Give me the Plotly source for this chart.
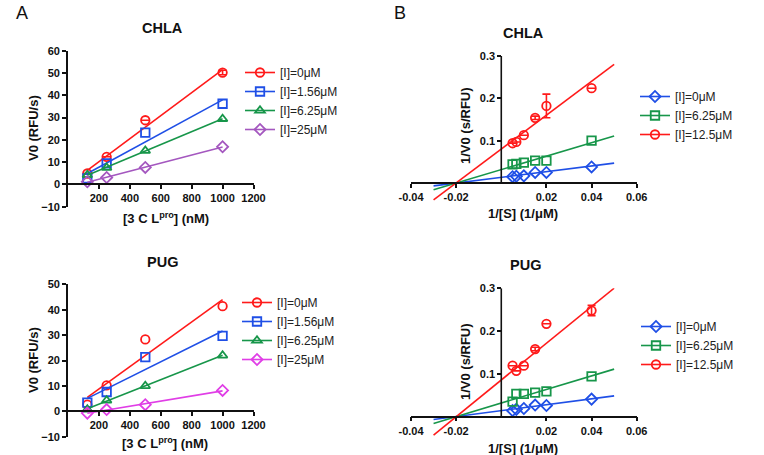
import numpy as np
import plotly.graph_objects as go

W, H = 764, 455
FONT = "Liberation Sans, Arial, sans-serif"

# ---------------- Panel A data ----------------
enzyme_nM = [125, 250, 500, 1000]

chla_labels = ["[I]=0μM", "[I]=1.56μM", "[I]=6.25μM", "[I]=25μM"]
chla_v0 = [
    [4.9, 12.4, 28.8, 50.2],
    [2.7, 9.4, 23.2, 36.2],
    [4.2, 7.5, 15.1, 29.4],
    [1.2, 3.1, 7.6, 16.9],
]
chla_v0_err = [
    [0, 0, 0, 1.0],
    [0, 0, 0, 0],
    [0, 0, 0, 0],
    [0, 0, 0, 0],
]

pug_labels = ["[I]=0μM", "[I]=1.56μM", "[I]=6.25μM", "[I]=25μM"]
pug_v0 = [
    [2.6, 10.2, 28.3, 41.4],
    [3.4, 7.6, 21.3, 29.7],
    [0.7, 4.3, 10.0, 22.0],
    [-0.7, 0.7, 2.6, 8.2],
]

a_yticks = [-10, 0, 10, 20, 30, 40, 50, 60]
a_yticks_pug = [-10, 0, 10, 20, 30, 40, 50]
a_xticks = [200, 400, 600, 800, 1000, 1200]

# ---------------- Panel B data ----------------
inv_s = [0.005, 0.00667, 0.01, 0.015, 0.02, 0.04]
b_labels = ["[I]=0μM", "[I]=6.25μM", "[I]=12.5μM"]

chla_inv_v = [
    [0.015, 0.016, 0.017, 0.025, 0.025, 0.038],
    [0.044, 0.045, 0.048, 0.053, 0.053, 0.100],
    [0.094, 0.097, 0.113, 0.154, 0.182, 0.224],
]
chla_inv_err = [
    [0, 0, 0, 0, 0, 0],
    [0, 0, 0, 0, 0, 0],
    [0, 0, 0, 0.004, 0.028, 0],
]
chla_fit_slope = [0.671, 1.586, 4.0]
chla_fit_icpt = [0.0134, 0.0317, 0.080]

pug_inv_v = [
    [0.014, 0.017, 0.019, 0.027, 0.026, 0.041],
    [0.035, 0.053, 0.053, 0.056, 0.059, 0.094],
    [0.119, 0.107, 0.119, 0.158, 0.217, 0.248],
]
pug_inv_err = [
    [0, 0, 0, 0, 0, 0],
    [0, 0, 0, 0, 0, 0],
    [0, 0, 0, 0.004, 0, 0.012],
]
pug_fit_slope = [0.693, 1.586, 4.29]
pug_fit_icpt = [0.0139, 0.0317, 0.0857]

fit_x_range = [-0.03, 0.05]
b_xticks = [-0.04, -0.02, 0.02, 0.04, 0.06]
b_xticktext = ["-0.04", "-0.02", "0.02", "0.04", "0.06"]
b_yticks = [0.1, 0.2, 0.3]

# ---------------- styles ----------------
RED = "#ff1a1a"
BLUE = "#1f4fe6"
GREEN = "#17964a"
PURPLE = "#a457bf"
MAGENTA = "#e03ee6"

a_top_style = [(RED, "circle-open"), (BLUE, "square-open"),
               (GREEN, "triangle-up-open"), (PURPLE, "diamond-open")]
a_bot_style = [(RED, "circle-open"), (BLUE, "square-open"),
               (GREEN, "triangle-up-open"), (MAGENTA, "diamond-open")]
b_style = [(BLUE, "diamond-open"), (GREEN, "square-open"), (RED, "circle-open")]


def px_dom_x(a, b):
    return [a / W, b / W]


def px_dom_y(top, bottom):
    return [1 - bottom / H, 1 - top / H]


dom = {
    "x": px_dom_x(68, 253.5), "y": px_dom_y(50.7, 206.7),
    "x2": px_dom_x(68, 253.5), "y2": px_dom_y(284.3, 436.7),
    "x3": px_dom_x(411, 636.7), "y3": px_dom_y(56, 204.2),
    "x4": px_dom_x(411, 636.7), "y4": px_dom_y(288.3, 438.0),
}
rng = {
    "x": [0, 1200], "y": [-10, 60],
    "x2": [0, 1200], "y2": [-10, 50],
    "x3": [-0.04, 0.06], "y3": [-0.05, 0.3],
    "x4": [-0.04, 0.06], "y4": [-0.05, 0.3],
}


def zero_pos(axdom, axrng):
    return axdom[0] + (0 - axrng[0]) / (axrng[1] - axrng[0]) * (axdom[1] - axdom[0])


fig = go.Figure()


def marker_style(col, sym):
    return dict(symbol=sym, size=8.5, color=col, line=dict(width=1.8, color=col))


def legend_entry(lab, col, sym, xa, ya, legend):
    fig.add_trace(go.Scatter(
        x=[None], y=[None], mode="lines+markers", name=lab,
        xaxis=xa, yaxis=ya, legend=legend,
        line=dict(color=col, width=1.6), marker=marker_style(col, sym)))


def add_a(values, labels, styles, xa, ya, legend, errs=None):
    for i, (vals, lab, (col, sym)) in enumerate(zip(values, labels, styles)):
        k, b0 = np.polyfit(enzyme_nM, vals, 1)
        xf = np.array([min(enzyme_nM), max(enzyme_nM)])
        fig.add_trace(go.Scatter(
            x=xf, y=k * xf + b0, mode="lines", xaxis=xa, yaxis=ya,
            line=dict(color=col, width=1.6), showlegend=False, hoverinfo="skip"))
        ey = None
        if errs is not None and any(errs[i]):
            ey = dict(type="data", array=errs[i], visible=True, color=col,
                      thickness=1.6, width=4)
        fig.add_trace(go.Scatter(
            x=enzyme_nM, y=vals, mode="markers", showlegend=False,
            xaxis=xa, yaxis=ya, marker=marker_style(col, sym), error_y=ey))
        legend_entry(lab, col, sym, xa, ya, legend)


def add_b(values, labels, styles, slopes, icpts, errs, xa, ya, legend):
    xf = np.array(fit_x_range)
    for i, (vals, lab, (col, sym)) in enumerate(zip(values, labels, styles)):
        fig.add_trace(go.Scatter(
            x=xf, y=slopes[i] * xf + icpts[i], mode="lines", xaxis=xa, yaxis=ya,
            line=dict(color=col, width=1.6), showlegend=False, hoverinfo="skip"))
        ey = None
        if any(errs[i]):
            ey = dict(type="data", array=errs[i], visible=True, color=col,
                      thickness=1.6, width=4)
        fig.add_trace(go.Scatter(
            x=inv_s, y=vals, mode="markers", showlegend=False,
            xaxis=xa, yaxis=ya, marker=marker_style(col, sym), error_y=ey))
        legend_entry(lab, col, sym, xa, ya, legend)


add_a(chla_v0, chla_labels, a_top_style, "x", "y", "legend", chla_v0_err)
add_a(pug_v0, pug_labels, a_bot_style, "x2", "y2", "legend2")
add_b(chla_inv_v, b_labels, b_style, chla_fit_slope, chla_fit_icpt, chla_inv_err,
      "x3", "y3", "legend3")
add_b(pug_inv_v, b_labels, b_style, pug_fit_slope, pug_fit_icpt, pug_inv_err,
      "x4", "y4", "legend4")

tickfont = dict(family=FONT, size=11, color="#111", weight="bold")
axline = dict(showline=True, linecolor="#111", linewidth=1.6, ticks="outside",
              ticklen=4, tickwidth=1.6, tickcolor="#111", showgrid=False,
              zeroline=False, tickfont=tickfont, fixedrange=True)

layout = dict(
    width=W, height=H, margin=dict(l=0, r=0, t=0, b=0, autoexpand=False),
    paper_bgcolor="white", plot_bgcolor="white", showlegend=True,
    font=dict(family=FONT, color="#111"),
)

# Panel A axes
for xa, ya, yt in (("x", "y", a_yticks), ("x2", "y2", a_yticks_pug)):
    xk = "xaxis" if xa == "x" else "xaxis" + xa[1:]
    yk = "yaxis" if ya == "y" else "yaxis" + ya[1:]
    layout[xk] = dict(domain=dom[xa], range=rng[xa], anchor="free",
                      position=zero_pos(dom[ya], rng[ya]), tickvals=a_xticks,
                      **axline)
    layout[yk] = dict(domain=dom[ya], range=rng[ya], anchor=xa, tickvals=yt,
                      **axline)

# Panel B axes
for xa, ya in (("x3", "y3"), ("x4", "y4")):
    xk = "xaxis" + xa[1:]
    yk = "yaxis" + ya[1:]
    layout[xk] = dict(domain=dom[xa], range=rng[xa], anchor="free",
                      position=zero_pos(dom[ya], rng[ya]), tickvals=b_xticks,
                      ticktext=b_xticktext, **axline)
    ax = dict(axline)
    ax["showline"] = False
    layout[yk] = dict(domain=dom[ya], range=rng[ya], anchor="free",
                      position=zero_pos(dom[xa], rng[xa]), tickvals=b_yticks,
                      **ax)

# legends
legfont = dict(family=FONT, size=12, color="#222")


def leg(xpx, ytop):
    return dict(x=xpx / W, y=1 - ytop / H, xanchor="left", yanchor="top",
                bgcolor="rgba(0,0,0,0)", font=legfont, itemwidth=30,
                tracegroupgap=0)


layout["legend"] = leg(240, 58)
layout["legend2"] = leg(237, 288)
layout["legend3"] = leg(635, 82)
layout["legend4"] = leg(636, 312)

fig.update_layout(**layout)

# y-axis lines in panel B (from 0 to top)
for xa, ya in (("x3", "y3"), ("x4", "y4")):
    fig.add_shape(type="line", xref=xa, yref=ya, x0=0, x1=0, y0=0, y1=0.3,
                  line=dict(color="#111", width=1.6))


def ann(text, xpx, ypx, size, bold=True, angle=0):
    fig.add_annotation(text=("<b>%s</b>" % text) if bold else text,
                       x=xpx / W, y=1 - ypx / H, xref="paper", yref="paper",
                       xanchor="center", yanchor="middle",
                       showarrow=False, textangle=angle,
                       font=dict(family=FONT, size=size, color="#111"))


ann("A", 22, 13, 18, bold=False)
ann("B", 400, 13, 18, bold=False)
ann("CHLA", 162, 28, 14.5)
ann("PUG", 162, 262, 14.5)
ann("CHLA", 523, 33, 14.5)
ann("PUG", 525, 265, 14.5)

ann("V0 (RFU/s)", 33, 128, 13, angle=-90)
ann("V0 (RFU/s)", 33, 360, 13, angle=-90)
ann("[3 C L<sup>pro</sup>] (nM)", 166, 218, 13)
ann("[3 C L<sup>pro</sup>] (nM)", 165, 443, 13)
ann("1/V0 (s/RFU)", 465, 126, 13, angle=-90)
ann("1/V0 (s/RFU)", 465, 362, 13, angle=-90)
ann("1/[S] (1/μM)", 523, 213, 13)
ann("1/[S] (1/μM)", 523, 448, 13)

fig.write_html(
    "out.html",
    config={"displayModeBar": False},
    post_script="document.body.style.margin='0';document.body.style.overflow='hidden';",
)
